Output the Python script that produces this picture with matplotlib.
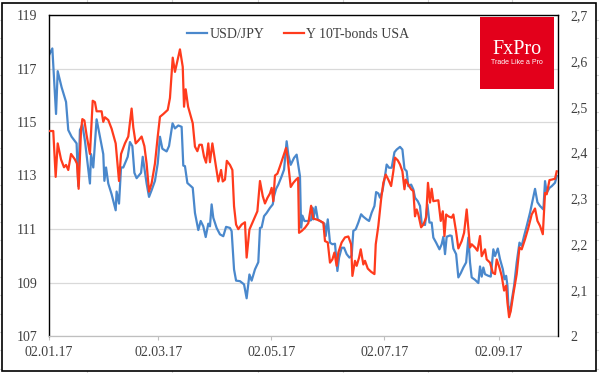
import numpy as np
import pandas as pd
import matplotlib
matplotlib.use("Agg")
import matplotlib.pyplot as plt
import matplotlib.dates as mdates
from matplotlib.patches import Rectangle
from matplotlib.lines import Line2D

start = pd.Timestamp("2017-01-02")

# USD/JPY, days after 02.01.17
usd_day = [0, 1.8, 3.8, 4.7, 6.8, 9.2, 10.4, 12.2, 14.9, 15.8, 16.7, 18.0, 19.4, 22.1, 22.7,
           23.9, 25.7, 27.5, 29.3, 29.9, 30.8, 32.0, 33.8, 36.0, 36.5, 37.8, 38.9, 40.1, 42.5,
           43.7, 45.0, 46.1, 47.3, 49.7, 50.6, 52.7, 54.0, 55.4, 57.2, 58.7, 59.9, 61.2, 63.5,
           64.8, 66.7, 68.0, 69.8, 71.6, 72.5, 73.4, 74.7, 75.8, 77.6, 78.8, 80.6, 81.9, 83.3,
           84.6, 86.0, 86.9, 87.8, 88.7, 90.5, 92.3, 94.1, 95.6, 97.7, 98.6, 99.9, 101.0, 103.1,
           105.3, 106.7, 108.2, 109.4, 111.2, 113.0, 113.9, 114.8, 116.1, 117.5, 119.3, 120.8,
           121.5, 122.6, 123.8, 125.6, 126.9, 128.3, 129.2, 130.5, 132.3, 133.7, 135.5, 136.1,
           136.8, 137.9, 140.0, 141.5, 142.2, 142.7, 144.0, 145.1, 147.2, 148.7, 149.4, 150.5,
           151.7, 153.0, 154.4, 155.7, 156.6, 158.0, 159.3, 160.7, 162.2, 163.4, 164.3, 165.6,
           167.0, 168.5, 169.7, 171.5, 172.8, 174.2, 175.7, 176.6, 177.8, 178.7, 180.0, 181.4,
           182.3, 183.6, 185.0, 186.5, 187.7, 189.5, 190.8, 191.9, 193.1, 194.0, 195.5, 196.7,
           197.6, 199.1, 200.3, 201.2, 203.0, 204.3, 205.4, 206.6, 207.5, 209.0, 210.8, 212.0,
           212.9, 213.8, 214.7, 216.5, 217.4, 218.3, 219.8, 221.0, 222.3, 223.7, 225.2, 226.4,
           227.3, 228.2, 230.0, 231.8, 232.7, 233.6, 234.5, 235.4, 237.2, 238.5, 239.9, 240.8,
           242.3, 243.5, 245.0, 245.9, 246.8, 247.5, 248.0, 248.9, 249.8, 251.1, 252.5, 254.0,
           255.2, 256.5, 257.9, 259.7, 261.2, 262.4, 263.7, 265.1, 266.9, 267.8, 268.7, 270.2,
           271.4, 273.2, 274.1]
usd_jpy = [117.5, 117.75, 115.3, 116.9, 116.3, 115.75, 114.7, 114.45, 114.2, 112.6, 114.7, 114.9,
           114.3, 112.7, 113.8, 113.3, 115.1, 114.45, 113.8, 112.8, 113.3, 112.7, 112.3, 111.7,
           112.4, 111.95, 113.3, 113.3, 113.7, 114.25, 114.1, 113.1, 112.9, 113.1, 113.7, 112.7,
           112.2, 112.45, 112.8, 113.45, 114.45, 114.0, 113.9, 114.1, 114.95, 114.76, 114.87,
           114.82, 113.37, 113.35, 112.72, 112.65, 112.54, 111.6, 110.96, 111.3, 111.1, 110.7,
           111.2, 111.1, 111.92, 111.42, 111.04, 110.8, 110.73, 111.08, 111.04, 110.92, 109.49,
           109.07, 109.05, 108.93, 108.41, 109.3, 109.07, 109.49, 109.76, 111.04, 111.06, 111.48,
           111.6, 111.79, 111.92, 112.23, 112.5, 112.66, 112.97, 113.22, 114.28, 113.78, 113.4,
           113.66, 113.78, 112.97, 111.05, 111.5, 111.3, 111.3, 111.33, 111.8, 111.36, 111.83,
           111.36, 111.26, 111.2, 110.74, 111.36, 110.49, 110.43, 110.45, 109.43, 109.93, 110.3,
           110.3, 110.06, 109.93, 110.0, 110.93, 110.99, 111.24, 111.55, 111.46, 111.36, 111.3,
           111.61, 111.86, 112.38, 112.33, 112.17, 112.42, 112.98, 113.41, 113.29, 113.29,
           113.87, 113.97, 114.07, 113.97, 113.25, 113.16, 112.6, 112.66, 112.48, 112.17, 112.04,
           111.86, 111.2, 111.15, 111.92, 111.24, 111.24, 110.68, 110.49, 110.24, 110.43, 110.71,
           110.06, 110.71, 110.76, 110.74, 110.27, 110.06, 109.19, 109.35, 109.56, 109.75, 110.68,
           109.75, 109.19, 109.1, 108.98, 109.6, 109.22, 109.56, 109.31, 109.25, 109.22, 110.24,
           109.99, 110.27, 109.87, 109.5, 109.12, 109.25, 108.88, 108.13, 107.88, 108.32, 108.88,
           109.75, 110.49, 110.37, 110.74, 111.11, 111.61, 112.1, 112.5, 112.0, 111.86, 111.73,
           112.79, 112.35, 112.54, 112.6, 112.73, 112.98]

# US 10Y yield, days after 02.01.17
ust_day = [0, 2.3, 3.6, 4.7, 6.5, 8.1, 9.2, 10.4, 11.9, 14.0, 15.1, 16.0, 17.3, 18.0, 19.1, 20.3,
           22.1, 23.6, 24.8, 25.7, 28.4, 29.3, 30.2, 32.0, 33.8, 36.0, 37.8, 38.9, 41.0, 42.8,
           44.6, 45.5, 46.8, 48.2, 50.0, 51.5, 52.7, 54.0, 55.4, 57.2, 58.7, 59.9, 61.7, 64.1,
           65.3, 66.8, 68.0, 70.7, 72.2, 72.9, 73.8, 75.1, 77.6, 78.8, 80.1, 81.2, 82.5, 83.7,
           84.8, 86.0, 86.9, 88.2, 89.6, 91.4, 92.9, 93.8, 95.0, 96.0, 97.7, 99.0, 99.9, 101.0,
           102.2, 104.0, 105.8, 106.7, 108.2, 109.4, 111.2, 112.5, 113.9, 115.4, 116.6, 117.9,
           119.3, 120.2, 121.1, 122.0, 123.3, 124.7, 126.5, 128.0, 128.7, 130.5, 131.9, 133.4,
           134.5, 135.0, 136.4, 138.2, 140.0, 141.5, 142.7, 144.5, 146.3, 148.1, 149.0, 150.5,
           151.7, 153.0, 154.1, 155.3, 156.2, 158.0, 159.8, 161.6, 163.1, 163.8, 165.2, 166.1,
           167.4, 168.3, 169.7, 170.6, 172.1, 173.9, 175.7, 176.4, 177.8, 179.3, 180.5, 181.8,
           183.2, 184.7, 185.9, 186.8, 188.3, 189.5, 190.8, 191.9, 192.6, 194.0, 195.5, 196.7,
           197.6, 198.5, 199.4, 200.9, 202.1, 203.6, 204.6, 205.7, 206.6, 207.5, 210.2, 211.5,
           212.6, 213.5, 214.4, 215.6, 217.4, 218.3, 219.8, 221.0, 222.8, 224.1, 225.5, 227.3,
           228.2, 230.0, 231.3, 232.7, 233.6, 235.4, 236.3, 238.1, 239.6, 240.8, 241.7, 243.2,
           244.4, 245.7, 246.8, 247.5, 248.4, 249.3, 250.7, 252.5, 254.0, 255.2, 257.0, 258.8,
           260.6, 262.4, 263.7, 265.1, 266.6, 267.8, 268.7, 270.2, 271.4, 273.2, 274.1]
ust_yield = [2.447, 2.447, 2.347, 2.420, 2.385, 2.368, 2.373, 2.362, 2.397, 2.385, 2.376, 2.321,
             2.449, 2.473, 2.470, 2.438, 2.397, 2.513, 2.510, 2.490, 2.490, 2.467, 2.477, 2.471,
             2.452, 2.420, 2.338, 2.397, 2.420, 2.435, 2.496, 2.455, 2.420, 2.426, 2.435, 2.414,
             2.376, 2.315, 2.333, 2.376, 2.435, 2.478, 2.484, 2.493, 2.519, 2.607, 2.576, 2.625,
             2.587, 2.500, 2.538, 2.500, 2.464, 2.413, 2.403, 2.417, 2.417, 2.391, 2.378, 2.420,
             2.379, 2.420, 2.384, 2.337, 2.362, 2.337, 2.341, 2.382, 2.373, 2.362, 2.283, 2.243,
             2.233, 2.243, 2.248, 2.171, 2.232, 2.243, 2.260, 2.272, 2.338, 2.305, 2.289, 2.301,
             2.311, 2.323, 2.294, 2.350, 2.354, 2.370, 2.392, 2.410, 2.392, 2.325, 2.334, 2.341,
             2.345, 2.225, 2.229, 2.236, 2.246, 2.284, 2.256, 2.254, 2.251, 2.247, 2.207, 2.204,
             2.160, 2.167, 2.182, 2.153, 2.182, 2.204, 2.215, 2.217, 2.200, 2.131, 2.164, 2.153,
             2.171, 2.189, 2.156, 2.164, 2.147, 2.140, 2.135, 2.200, 2.240, 2.298, 2.334, 2.352,
             2.341, 2.327, 2.359, 2.389, 2.383, 2.374, 2.359, 2.320, 2.341, 2.330, 2.320, 2.316,
             2.261, 2.276, 2.265, 2.237, 2.243, 2.258, 2.334, 2.291, 2.321, 2.294, 2.296, 2.251,
             2.272, 2.218, 2.265, 2.261, 2.258, 2.265, 2.227, 2.191, 2.207, 2.225, 2.276, 2.193,
             2.200, 2.193, 2.186, 2.218, 2.174, 2.189, 2.167, 2.160, 2.138, 2.135, 2.167, 2.149,
             2.131, 2.099, 2.110, 2.073, 2.041, 2.055, 2.092, 2.135, 2.193, 2.189, 2.211, 2.236,
             2.265, 2.278, 2.251, 2.240, 2.222, 2.312, 2.309, 2.340, 2.341, 2.343, 2.359]

tick_dates = ["2017-01-02", "2017-03-02", "2017-05-02", "2017-07-02", "2017-09-02"]
left_ticks = [107, 109, 111, 113, 115, 117, 119]
right_ticks = [2.0, 2.1, 2.2, 2.3, 2.4, 2.5, 2.6, 2.7]

usd_dates = start + pd.to_timedelta(usd_day, unit="D")
ust_dates = start + pd.to_timedelta(ust_day, unit="D")

blue = "#4a88cc"
red = "#ff3b1d"
txt = "#404040"
serif = "Liberation Serif"

W, H = 599, 373
fig = plt.figure(figsize=(W / 100, H / 100), dpi=100)

# excel cell grid peeking out around the chart frame
for gx in [87, 172, 258, 343, 428, 512]:
    fig.add_artist(Line2D([gx / W, gx / W], [0, 1], color="#d6d6d6", lw=0.8, zorder=0))
for gy in np.arange(20, H, 18.35):
    fig.add_artist(Line2D([0, 1], [1 - gy / H, 1 - gy / H], color="#d6d6d6", lw=0.8, zorder=0))
fig.add_artist(Rectangle((2 / W, 2 / H), 594 / W, 368 / H, transform=fig.transFigure,
                         facecolor="white", edgecolor="black", lw=1.2, zorder=1))

ax = fig.add_axes([49 / W, 37 / H, 509 / W, 321 / H])
ax.set_zorder(2)
ax.patch.set_visible(False)
l1, = ax.plot(usd_dates, usd_jpy, color=blue, lw=1.6, label="USD/JPY")
ax.set_ylim(107, 119)
ax.set_yticks(left_ticks)
ax.grid(axis="y", color="#d9d9d9", lw=0.9)
ax.set_axisbelow(True)
ax.set_xlim(start, start + pd.Timedelta(days=274.8))
ax.set_xticks(pd.to_datetime(tick_dates))
ax.xaxis.set_major_formatter(mdates.DateFormatter("%d.%m.%y"))
ax.tick_params(axis="y", length=0, pad=8.5, labelsize=10, labelcolor=txt)
ax.tick_params(axis="x", length=3, width=0.8, color="#bfbfbf", pad=4, labelsize=10, labelcolor=txt)
for lab in ax.get_xticklabels() + ax.get_yticklabels():
    lab.set_family(serif)
for s in ["left", "top"]:
    ax.spines[s].set_color("black")
    ax.spines[s].set_linewidth(1.0)
ax.spines["right"].set_visible(False)
ax.spines["bottom"].set_color("#bfbfbf")
ax.spines["bottom"].set_linewidth(0.9)

ax2 = ax.twinx()
ax2.set_zorder(3)
l2, = ax2.plot(ust_dates, ust_yield, color=red, lw=1.6, label="Y 10T-bonds USA")
ax2.set_ylim(2.0, 2.7)
ax2.set_yticks(right_ticks)
ax2.set_yticklabels(["2"] + [("%.1f" % v).replace(".", ",") for v in right_ticks[1:]])
ax2.tick_params(axis="y", length=0, pad=9, labelsize=10, labelcolor=txt)
for lab in ax2.get_yticklabels():
    lab.set_family(serif)
for s in ["left", "top", "bottom"]:
    ax2.spines[s].set_visible(False)
ax2.spines["right"].set_color("black")
ax2.spines["right"].set_linewidth(1.0)

leg = fig.legend(handles=[l1, l2], loc="center", bbox_to_anchor=(298 / W, 1 - 34 / H),
                 ncol=2, frameon=False, handlelength=1.45, handletextpad=0.15,
                 columnspacing=1.4, prop={"family": serif, "size": 10})
for t in leg.get_texts():
    t.set_color(txt)

# FxPro badge
fig.add_artist(Rectangle((480 / W, 1 - 89 / H), 74 / W, 72 / H, transform=fig.transFigure,
                         facecolor="#e3001b", edgecolor="none", zorder=5))
fig.text(517 / W, 1 - 49 / H, "FxPro", color="white", family=serif, size=14.5,
         ha="center", va="center", zorder=6)
fig.text(517 / W, 1 - 62.5 / H, "Trade Like a Pro", color="white", family="Liberation Sans",
         size=5, ha="center", va="center", zorder=6)

fig.savefig("out.png", dpi=100)
